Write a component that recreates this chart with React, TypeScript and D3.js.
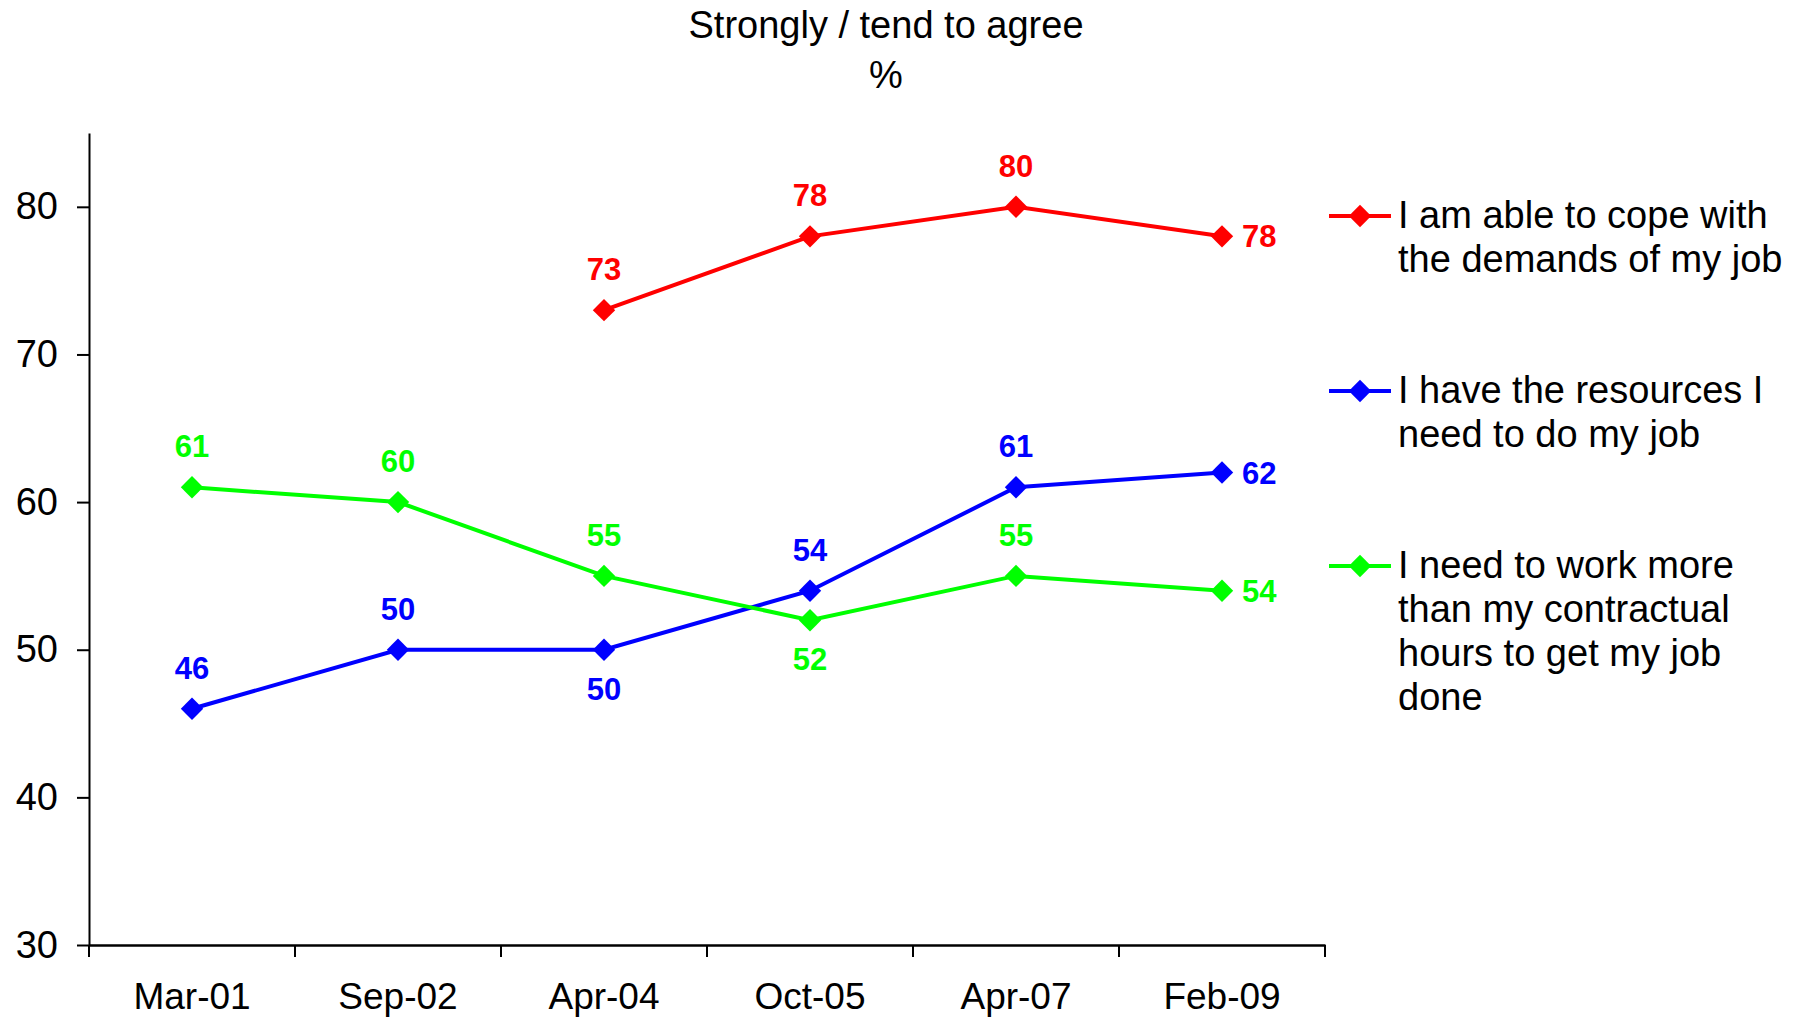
import { useEffect, useRef } from "react";
import * as d3 from "d3";

// ── Data ──────────────────────────────────────────────────────────────────────

const CATEGORIES = ["Mar-01", "Sep-02", "Apr-04", "Oct-05", "Apr-07", "Feb-09"];

const COPE      = [null, null, 73, 78, 80, 78];
const RESOURCES = [46, 50, 50, 54, 61, 62];
const MORE_HRS  = [61, 60, 55, 52, 55, 54];

const Y_TICKS = [30, 40, 50, 60, 70, 80];

const TITLE = ["Strongly / tend to agree", "%"];

// where each point's label sits relative to its marker
const COPE_POS      = ["", "", "up", "up", "up", "right"];
const RESOURCES_POS = ["up", "up", "down", "up", "up", "right"];
const MORE_HRS_POS  = ["up", "up", "up", "down", "up", "right"];

// ── Config ────────────────────────────────────────────────────────────────────

const W = 1801;
const H = 1018;
const PLOT = { left: 89, right: 1325, top: 133, bottom: 945 };
const FONT = "'Liberation Sans', Arial, Helvetica, sans-serif";

type Series = {
  name:   string[];
  values: (number | null)[];
  pos:    string[];
  color:  string;
};

const SERIES: Series[] = [
  { name: ["I am able to cope with", "the demands of my job"], values: COPE, pos: COPE_POS, color: "#ff0000" },
  { name: ["I have the resources I", "need to do my job"], values: RESOURCES, pos: RESOURCES_POS, color: "#0000ff" },
  { name: ["I need to work more", "than my contractual", "hours to get my job", "done"], values: MORE_HRS, pos: MORE_HRS_POS, color: "#00ff00" },
];

const LEGEND = { x0: 1329, x1: 1391, textX: 1398, y: 216, step: 175, lineH: 44 };

// ── Component ─────────────────────────────────────────────────────────────────

const App = () => {
  const svgRef = useRef<SVGSVGElement>(null);

  useEffect(() => {
    if (!svgRef.current) return;
    const svg = d3.select(svgRef.current);
    svg.selectAll("*").remove();

    const x = d3.scaleBand<string>()
      .domain(CATEGORIES)
      .range([PLOT.left, PLOT.right]);

    const y = d3.scaleLinear()
      .domain([30, 85])
      .range([PLOT.bottom, PLOT.top]);

    const cx = (i: number) => (x(CATEGORIES[i]) ?? 0) + x.bandwidth() / 2;

    // Title
    TITLE.forEach((t, i) => {
      svg.append("text")
        .attr("x", 886)
        .attr("y", 38 + i * 50)
        .attr("text-anchor", "middle")
        .attr("font-family", FONT)
        .attr("font-size", 38)
        .attr("fill", "#000")
        .text(t);
    });

    // Y axis
    const yAxis = svg.append("g")
      .attr("transform", `translate(${PLOT.left},0)`)
      .call(d3.axisLeft(y).tickValues(Y_TICKS).tickSize(12).tickPadding(19).tickSizeOuter(0));
    yAxis.select(".domain").attr("stroke", "#000").attr("stroke-width", 2);
    yAxis.selectAll(".tick line").attr("stroke", "#000").attr("stroke-width", 2);
    yAxis.selectAll("text")
      .attr("font-family", FONT)
      .attr("font-size", 38)
      .attr("fill", "#000");

    // X axis
    const xAxis = svg.append("g")
      .attr("transform", `translate(0,${PLOT.bottom})`)
      .call(d3.axisBottom(x).tickSize(0).tickPadding(38));
    xAxis.select(".domain").attr("stroke", "#000").attr("stroke-width", 2.5);
    xAxis.selectAll("text")
      .attr("font-family", FONT)
      .attr("font-size", 37)
      .attr("fill", "#000");

    // category boundary ticks
    const bounds = CATEGORIES.map((c) => x(c) ?? 0).concat([PLOT.right]);
    svg.append("g")
      .selectAll("line")
      .data(bounds)
      .join("line")
      .attr("x1", (d) => d)
      .attr("x2", (d) => d)
      .attr("y1", PLOT.bottom)
      .attr("y2", PLOT.bottom + 12)
      .attr("stroke", "#000")
      .attr("stroke-width", 2);

    const diamond = d3.symbol().type(d3.symbolDiamond2).size(320);

    // Series
    SERIES.forEach((s) => {
      const pts = s.values.map((v, i) => ({ v, i })).filter((d) => d.v !== null) as { v: number; i: number }[];

      const line = d3.line<{ v: number; i: number }>()
        .x((d) => cx(d.i))
        .y((d) => y(d.v));

      svg.append("path")
        .datum(pts)
        .attr("fill", "none")
        .attr("stroke", s.color)
        .attr("stroke-width", 4)
        .attr("d", line);

      svg.append("g")
        .selectAll("path")
        .data(pts)
        .join("path")
        .attr("transform", (d) => `translate(${cx(d.i)},${y(d.v)})`)
        .attr("d", diamond)
        .attr("fill", s.color);

      svg.append("g")
        .selectAll("text")
        .data(pts)
        .join("text")
        .attr("x", (d) => s.pos[d.i] === "right" ? cx(d.i) + 20 : cx(d.i))
        .attr("y", (d) => {
          const p = s.pos[d.i];
          if (p === "down") return y(d.v) + 50;
          if (p === "right") return y(d.v) + 11;
          return y(d.v) - 30;
        })
        .attr("text-anchor", (d) => s.pos[d.i] === "right" ? "start" : "middle")
        .attr("font-family", FONT)
        .attr("font-size", 31)
        .attr("font-weight", "bold")
        .attr("fill", s.color)
        .text((d) => d.v);
    });

    // Legend
    SERIES.forEach((s, k) => {
      const ly = LEGEND.y + k * LEGEND.step;
      const g = svg.append("g");
      g.append("line")
        .attr("x1", LEGEND.x0)
        .attr("x2", LEGEND.x1)
        .attr("y1", ly)
        .attr("y2", ly)
        .attr("stroke", s.color)
        .attr("stroke-width", 4);
      g.append("path")
        .attr("transform", `translate(${(LEGEND.x0 + LEGEND.x1) / 2},${ly})`)
        .attr("d", diamond)
        .attr("fill", s.color);
      s.name.forEach((t, j) => {
        g.append("text")
          .attr("x", LEGEND.textX)
          .attr("y", ly + 12 + j * LEGEND.lineH)
          .attr("font-family", FONT)
          .attr("font-size", 38)
          .attr("fill", "#000")
          .text(t);
      });
    });
  }, []);

  return (
    <svg
      ref={svgRef}
      width={W}
      height={H}
      style={{ position: "absolute", left: 0, top: 0, background: "#fff", display: "block" }}
    />
  );
};

export default App;
